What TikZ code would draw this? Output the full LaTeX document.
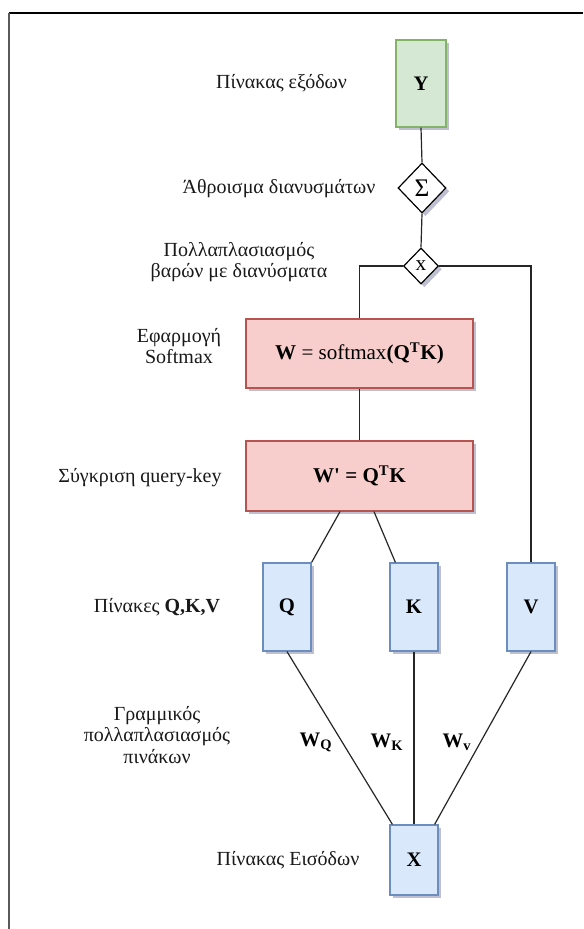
\documentclass[tikz,border=0pt]{standalone}
\usepackage{fontspec}
\setmainfont{Liberation Serif}[Ligatures=TeXOff]
\usetikzlibrary{shapes.geometric,shadows,calc}
\definecolor{gfill}{HTML}{D5E8D4}
\definecolor{gline}{HTML}{82B366}
\definecolor{rfill}{HTML}{F8CECC}
\definecolor{rline}{HTML}{B85450}
\definecolor{bfill}{HTML}{DAE8FC}
\definecolor{bline}{HTML}{6C8EBF}
\tikzset{
  shad/.style={drop shadow={shadow xshift=2.5pt,shadow yshift=-2.5pt,opacity=0.25,fill=black!70!blue}},
  gbox/.style={draw=gline,fill=gfill,line width=0.9pt,minimum width=50*0.75pt,minimum height=87*0.75pt,inner sep=0pt,shad,font=\fontsize{15.5}{18}\selectfont\bfseries},
  rbox/.style={draw=rline,fill=rfill,line width=0.9pt,minimum width=227*0.75pt,inner sep=0pt,shad,font=\fontsize{15.8}{18}\selectfont},
  bbox/.style={draw=bline,fill=bfill,line width=0.9pt,minimum width=48*0.75pt,inner sep=0pt,shad,font=\fontsize{15.5}{18}\selectfont\bfseries},
  dia/.style={diamond,draw=black,fill=white,line width=0.9pt,inner sep=0pt,shad},
  lbl/.style={align=center,font=\fontsize{15}{16}\selectfont,inner sep=0pt,text=black!90},
  elbl/.style={font=\fontsize{15.5}{18}\selectfont\bfseries,inner sep=0pt},
  conn/.style={draw=black!85,line width=0.9pt}
}
\begin{document}
\begin{tikzpicture}[x=0.75pt,y=-0.75pt]
\useasboundingbox (0,0) rectangle (583,929);
% frame
\draw[black,line width=0.8pt] (9,13) -- (583,13);
\draw[black!65,line width=1.2pt] (9,13) -- (9,929);
% nodes
\node[gbox] (Y) at (421,83.5) {Y};
\node[dia,minimum width=48*0.75pt,minimum height=50*0.75pt,font=\fontsize{19}{20}\selectfont] (S) at (422,188) {Σ};
\node[dia,minimum width=35*0.75pt,minimum height=36*0.75pt,font=\fontsize{16}{16}\selectfont] (M) at (421,266) {x};
\node[rbox,minimum height=69*0.75pt] (W) at (359.5,353.5) {\textbf{W} = softmax\textbf{(Q\textsuperscript{T}K)}};
\node[rbox,minimum height=70*0.75pt] (Wp) at (359.5,476) {\textbf{W' = Q\textsuperscript{T}K}};
\node[bbox,minimum height=88*0.75pt] (Q) at (287,607) {Q};
\node[bbox,minimum height=88*0.75pt] (K) at (414,607) {K};
\node[bbox,minimum height=88*0.75pt] (V) at (531,607) {V};
\node[bbox,minimum height=70*0.75pt] (X) at (414,860) {X};
% connectors
\draw[conn] (Y.south) -- (S.north);
\draw[conn] (S.south) -- (M.north);
\draw[conn] (M.west) -| (W.north);
\draw[conn] (M.east) -| (V.north);
\draw[conn] (W.south) -- (Wp.north);
\draw[conn] ($(Wp.south)+(-19.5,0)$) -- (Q.north east);
\draw[conn] ($(Wp.south)+(14.5,0)$) -- ($(K.north west)+(6,0)$);
\draw[conn] (Q.south) -- ($(X.north west)+(3,0)$);
\draw[conn] (K.south) -- (X.north);
\draw[conn] (V.south) -- ($(X.north east)+(-4,0)$);
% edge labels
\node[elbl] (lq) at (316,742) {W\textsubscript{Q}};
\node[elbl] (lk) at (387,742) {W\textsubscript{K}};
\node[elbl] (lv) at (457,742) {W\textsubscript{v}};
% side labels
\node[lbl] (t1) at (281.5,83) {Πίνακας εξόδων};
\node[lbl] (t2) at (279,189) {Άθροισμα διανυσμάτων};
\node[lbl] (t3) at (239,262) {Πολλαπλασιασμός\\βαρών με διανύσματα};
\node[lbl] (t4) at (179,346) {Εφαρμογή\\Softmax};
\node[lbl] (t5) at (140,478) {Σύγκριση query-key};
\node[lbl] (t6) at (157,607) {Πίνακες \textbf{Q,K,V}};
\node[lbl] (t7) at (157,735) {Γραμμικός\\πολλαπλασιασμός\\πινάκων};
\node[lbl] (t8) at (288,860) {Πίνακας Εισόδων};
\end{tikzpicture}
\end{document}
